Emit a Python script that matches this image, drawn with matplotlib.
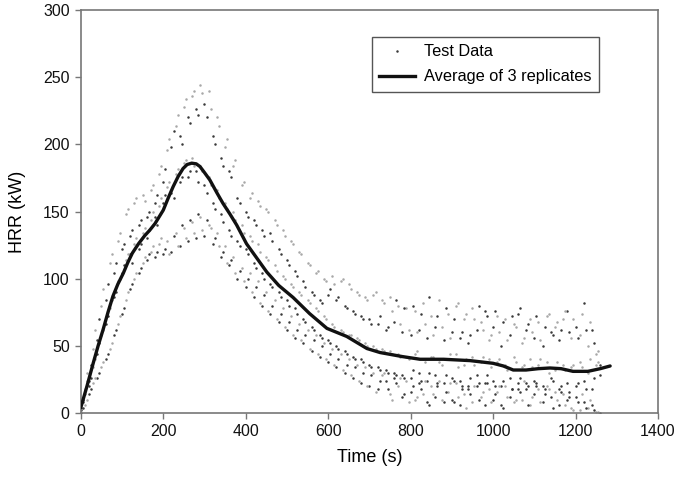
import numpy as np
import matplotlib
matplotlib.use("Agg")
import matplotlib.pyplot as plt
from matplotlib.lines import Line2D

plt.rcParams['font.family'] = ['Liberation Sans', 'DejaVu Sans']

# Time bases of the replicate test data (s): samples at 0,10,... and 5,15,...
time_a = list(range(0, 1261, 10))
time_b = list(range(5, 1256, 10))

# Replicate 1 (highest peak) HRR (kW)
rep1_a = [4, 18, 24, 48, 54, 80, 84, 112, 104, 128, 122, 148, 132, 156, 140, 162, 146, 166, 156, 178,
          172, 196, 198, 214, 206, 228, 220, 236, 226, 244, 230, 240, 206, 220, 190, 198, 180, 184, 160, 170,
          150, 160, 144, 158, 136, 152, 134, 144, 122, 136, 114, 128, 106, 120, 98, 112, 90, 104, 84, 100,
          88, 102, 84, 98, 80, 96, 76, 90, 72, 86, 70, 88, 66, 84, 62, 86, 68, 80, 60, 78,
          58, 76, 62, 82, 56, 72, 64, 84, 54, 74, 60, 80, 56, 70, 52, 78, 62, 68, 76, 54,
          64, 72, 50, 70, 58, 66, 74, 52, 62, 70, 56, 68, 50, 72, 60, 64, 54, 70, 76, 56,
          64, 58, 82, 50, 62, 44, 36]
rep1_b = [10, 30, 36, 62, 70, 92, 96, 118, 112, 134, 126, 152, 136, 160, 144, 158, 150, 170, 162, 184,
          182, 204, 210, 222, 200, 234, 216, 240, 222, 238, 220, 226, 200, 214, 184, 204, 176, 188, 156, 172,
          146, 164, 140, 154, 132, 150, 128, 140, 118, 132, 110, 126, 102, 118, 94, 110, 88, 106, 82, 98,
          92, 96, 86, 100, 78, 92, 74, 88, 70, 84, 66, 90, 72, 82, 64, 76, 84, 66, 78, 62,
          80, 60, 74, 66, 86, 58, 72, 64, 78, 56, 70, 82, 60, 74, 58, 70, 80, 62, 72, 58,
          76, 60, 68, 54, 72, 64, 78, 56, 66, 60, 72, 54, 64, 74, 58, 68, 62, 76, 60, 70,
          56, 74, 62, 68, 52, 46]

# Replicate 2 (middle) HRR (kW)
rep2_a = [2, 14, 20, 34, 44, 58, 66, 78, 86, 98, 104, 114, 118, 126, 122, 134, 130, 144, 146, 154,
          156, 168, 164, 178, 172, 186, 176, 190, 180, 184, 170, 176, 156, 166, 148, 156, 136, 150, 128, 140,
          122, 132, 112, 126, 104, 116, 96, 110, 90, 102, 84, 96, 78, 90, 70, 84, 64, 78, 58, 72,
          54, 66, 50, 62, 46, 58, 42, 56, 40, 52, 36, 50, 34, 48, 32, 46, 30, 44, 28, 42,
          26, 44, 30, 40, 24, 42, 28, 38, 22, 40, 26, 44, 24, 36, 20, 42, 28, 38, 22, 40,
          24, 38, 20, 36, 26, 42, 22, 34, 18, 40, 24, 36, 20, 38, 26, 32, 18, 36, 22, 34,
          20, 38, 24, 30, 18, 36, 28]
rep2_b = [8, 24, 26, 40, 52, 62, 72, 84, 90, 100, 110, 118, 112, 130, 126, 138, 136, 150, 140, 160,
          162, 172, 160, 182, 176, 188, 180, 184, 172, 180, 164, 170, 152, 160, 142, 152, 132, 144, 124, 134,
          118, 128, 108, 120, 100, 114, 94, 106, 86, 100, 80, 94, 74, 88, 68, 82, 62, 76, 56, 70,
          52, 64, 48, 60, 44, 58, 40, 54, 38, 50, 34, 48, 32, 46, 30, 44, 28, 42, 26, 40,
          32, 46, 24, 38, 30, 42, 22, 36, 28, 44, 24, 34, 20, 40, 26, 36, 22, 42, 28, 34,
          20, 40, 24, 32, 18, 38, 26, 36, 20, 34, 22, 40, 18, 30, 24, 38, 20, 32, 16, 36,
          22, 34, 18, 40, 26, 38]

# Replicate 3 (lowest peak) HRR (kW)
rep3_a = [0, 6, 14, 22, 26, 34, 40, 48, 58, 66, 74, 84, 92, 100, 104, 112, 114, 120, 116, 126,
          118, 128, 120, 134, 124, 138, 128, 142, 130, 146, 132, 140, 126, 134, 116, 124, 110, 116, 100, 108,
          94, 104, 86, 98, 80, 90, 74, 84, 68, 78, 62, 72, 56, 66, 52, 62, 46, 58, 42, 52,
          38, 48, 34, 44, 30, 40, 26, 36, 22, 34, 20, 30, 18, 28, 24, 14, 26, 20, 12, 24,
          16, 10, 22, 14, 8, 20, 12, 24, 8, 16, 10, 22, 6, 14, 18, 8, 20, 12, 6, 18,
          10, 16, 6, 20, 12, 8, 18, 10, 22, 6, 14, 18, 8, 20, 12, 16, 6, 14, 10, 4,
          12, 2, 8, 4, 6, 1, 0]
rep3_b = [4, 10, 18, 26, 30, 38, 44, 52, 62, 72, 78, 90, 96, 104, 108, 116, 118, 124, 120, 130,
          122, 118, 132, 124, 140, 130, 144, 134, 148, 136, 144, 138, 130, 124, 120, 112, 114, 104, 106, 98,
          100, 90, 94, 82, 88, 76, 80, 70, 74, 64, 68, 58, 62, 54, 58, 48, 54, 44, 50, 40,
          44, 36, 40, 32, 36, 28, 34, 24, 30, 20, 28, 16, 24, 30, 18, 10, 22, 26, 14, 8,
          20, 12, 18, 24, 6, 14, 20, 10, 16, 22, 8, 12, 18, 4, 14, 20, 10, 16, 22, 8,
          14, 20, 4, 12, 18, 10, 16, 24, 6, 12, 20, 8, 14, 18, 4, 10, 16, 6, 12, 2,
          8, 14, 4, 10, 2, 1]

# Average of the 3 replicates
avg_t = [0, 15, 30, 42, 54, 66, 78, 90, 103, 114, 125, 140, 155, 167, 180, 190, 200, 212, 224, 236,
         248, 258, 269, 280, 289, 300, 313, 330, 345, 362, 378, 402, 430, 451, 480, 515, 555, 597, 645,
         694, 726, 780, 823, 880, 944, 1000, 1025, 1049, 1080, 1110, 1138, 1165, 1194, 1230, 1260, 1284]
avg_v = [4, 20, 37, 50, 62, 75, 87, 96, 104, 112, 119, 126, 132, 136, 141, 146, 151, 160, 168.5, 176,
         182, 185, 186, 185.5, 183.5, 179, 173.5, 164, 156, 148, 140, 126, 114, 105, 95, 86, 74, 63, 57,
         48, 45, 42, 40, 40, 39, 37, 35, 32, 32, 33, 33.5, 33, 31, 31, 33, 35]

fig = plt.figure(figsize=(6.79, 4.78), dpi=100)
ax = fig.add_axes([0.119, 0.136, 0.850, 0.843])

for tt, rep in ((time_a, rep1_a), (time_b, rep1_b), (time_a, rep2_a),
                (time_b, rep2_b), (time_a, rep3_a), (time_b, rep3_b)):
    t = np.array(tt)
    r = np.array(rep)
    ax.plot(t[0::2], r[0::2], linestyle='none', marker='o', ms=1.8, mew=0, color='#3a3a3a', zorder=2)
    ax.plot(t[1::2], r[1::2], linestyle='none', marker='o', ms=1.8, mew=0, color='#a8a8a8', zorder=2)

ax.plot(avg_t, avg_v, color='#111111', lw=2.4, zorder=3, solid_capstyle='round', solid_joinstyle='round')

ax.set_xlim(0, 1400)
ax.set_ylim(0, 300)
ax.set_xticks(range(0, 1401, 200))
ax.set_yticks(range(0, 301, 50))
ax.tick_params(direction='out', length=4, width=1, colors='#777777', labelcolor='#111111',
               labelsize=11.5, pad=4)
for s in ax.spines.values():
    s.set_color('#777777')
    s.set_linewidth(1.2)

ax.set_xlabel('Time (s)', fontsize=13, labelpad=7)
ax.set_ylabel('HRR (kW)', fontsize=13, labelpad=12)

handles = [Line2D([], [], linestyle='none', marker='o', ms=1.8, mew=0, color='#3a3a3a'),
           Line2D([], [], color='#111111', lw=2.4)]
leg = ax.legend(handles, ['Test Data', 'Average of 3 replicates'], loc='upper left',
                bbox_to_anchor=(0.504, 0.933), borderaxespad=0, fancybox=False,
                edgecolor='#555555', framealpha=1, fontsize=11.8, handlelength=2.2,
                handletextpad=0.55, borderpad=0.45, labelspacing=0.6)
leg.get_frame().set_linewidth(1.0)

fig.savefig('out.png', dpi=100)
